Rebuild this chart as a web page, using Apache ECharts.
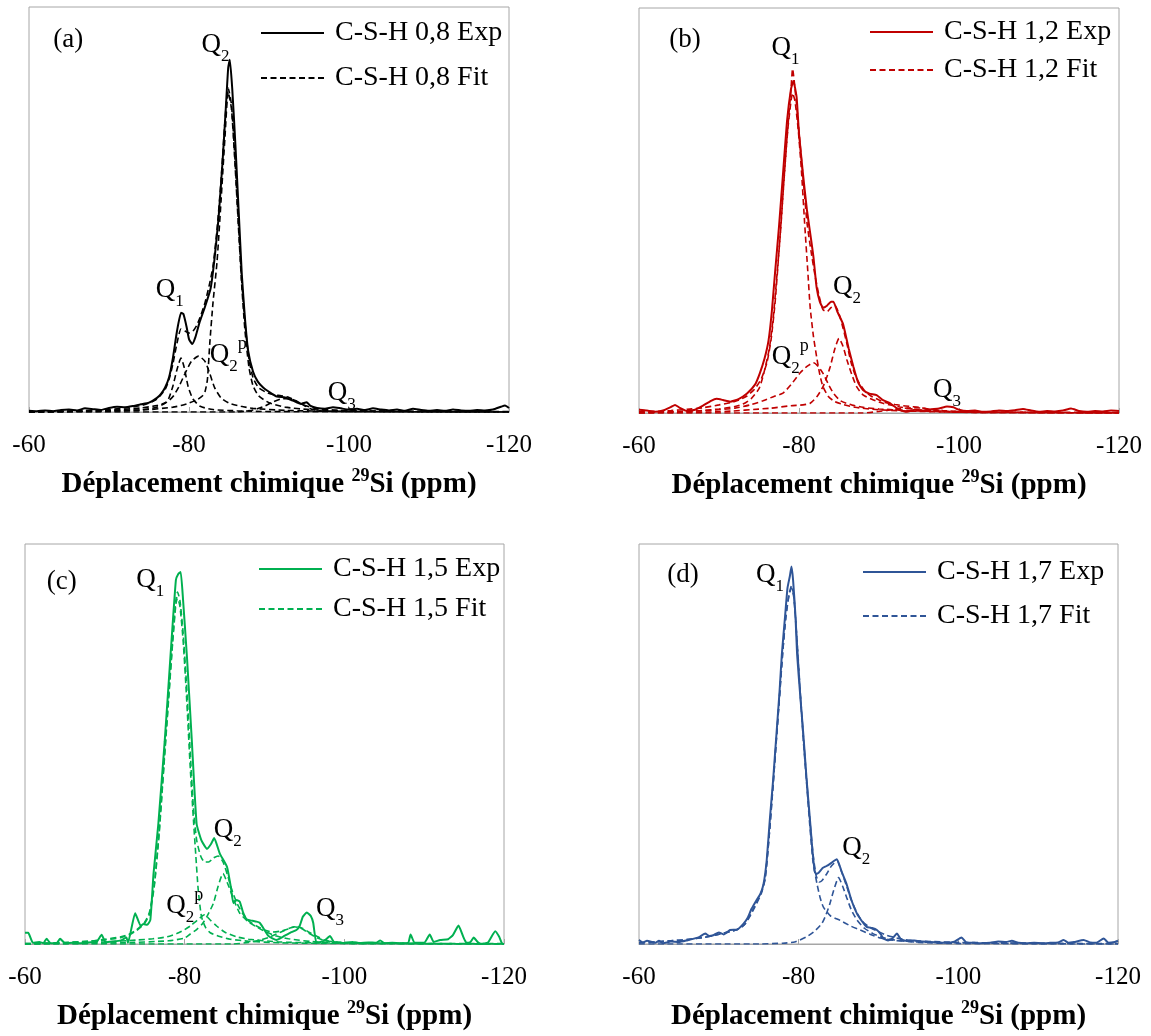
<!DOCTYPE html>
<html>
<head>
<meta charset="utf-8">
<script src="https://cdn.jsdelivr.net/npm/echarts@6/dist/echarts.min.js"></script>
<style>html,body{margin:0;padding:0;background:#fff;}#c{width:1151px;height:1036px;}</style>
</head>
<body>
<div id="c"></div>
<script>
// ---------- tick labels / axis ----------
const xTicks = [-60, -80, -100, -120];
const axisTitle = 'Déplacement chimique {sup|29}Si (ppm)';

// ---------- panel (a) C-S-H 0,8 ----------
const expA = [[-60,0.3],[-61,0.2],[-62,0.4],[-63,0.2],[-64,0.5],[-65,0.6],[-66,0.4],[-67,0.9],[-68,0.7],[-69,0.5],[-70,1.0],[-71,1.3],[-72,1.2],[-73,1.5],[-74,1.9],[-75,2.3],[-76,3.5],[-76.5,4.5],[-77,6],[-77.5,8.5],[-78,13.5],[-78.5,20],[-79,24.5],[-79.3,24.2],[-79.7,21],[-80,18],[-80.4,16.8],[-80.8,18.5],[-81.3,22],[-82,26],[-82.7,30.5],[-83.2,38],[-83.7,48],[-84.2,62],[-84.6,75],[-84.9,85],[-85.1,87],[-85.4,80],[-85.8,66],[-86.2,50],[-86.6,34],[-87,23],[-87.4,15],[-88,10],[-88.6,7.5],[-89.3,6],[-90,5],[-91,3.8],[-92,3.6],[-93,2.8],[-94,2.0],[-94.7,2.4],[-95.2,1.5],[-96,1.0],[-97,0.8],[-98,1.2],[-99,0.9],[-100,0.6],[-101,0.8],[-102,0.5],[-103,0.9],[-104,0.6],[-105,0.4],[-106,0.6],[-107,0.3],[-108,0.8],[-109,0.5],[-110,0.3],[-111,0.5],[-112,0.3],[-113,0.6],[-114,0.4],[-115,0.3],[-116,0.5],[-117,0.4],[-118,0.6],[-119,1.3],[-119.5,1.6],[-120,1.0]];
const fitA = [[-60,0],[-65,0.2],[-70,0.6],[-72,1.0],[-74,1.6],[-75,2.2],[-76,3.2],[-77,5.5],[-77.5,8],[-78,12],[-78.5,17],[-79,20.5],[-79.5,20],[-80,19.5],[-80.5,20],[-81,21.5],[-81.5,24],[-82,27],[-82.5,31],[-83,36],[-83.5,45],[-84,57],[-84.5,72],[-84.9,80],[-85.3,76],[-85.7,64],[-86.2,46],[-86.6,32],[-87,22],[-87.5,13],[-88,8.5],[-88.7,6],[-89.5,5],[-90.5,4.3],[-91.5,4],[-92.5,3.6],[-93.5,2.6],[-94.5,1.6],[-96,0.8],[-98,0.5],[-100,0.3],[-105,0.2],[-110,0.1],[-120,0.1]];
const q1A = [[-60,0],[-70,0.2],[-74,0.5],[-76,1.2],[-77,2.2],[-77.5,3.5],[-78,6.5],[-78.5,10.5],[-79,13.3],[-79.4,11],[-79.9,6.2],[-80.5,3.2],[-81.4,1.4],[-83,0.6],[-86,0.3],[-90,0.1],[-120,0]];
const q2pA = [[-60,0],[-70,0.4],[-74,1.0],[-76,1.6],[-77.2,2.4],[-78,3.8],[-78.8,6.5],[-79.5,9.5],[-80.3,12.5],[-81.2,13.8],[-82,12.5],[-82.6,9.5],[-83.2,6],[-84,3.5],[-85,2.2],[-86.5,1.4],[-88,0.9],[-92,0.4],[-100,0.1],[-120,0]];
const q2A = [[-60,0],[-70,0.3],[-75,0.6],[-78,1.2],[-79,1.6],[-80,2.2],[-81,3.0],[-81.7,4],[-82,5],[-82.3,8],[-82.6,17],[-83,27],[-83.5,37],[-84,52],[-84.5,68],[-84.9,79],[-85.3,75],[-85.7,63],[-86.2,45],[-86.6,31],[-87,20],[-87.5,11],[-88,6.5],[-88.7,4],[-90,2.3],[-92,1.2],[-95,0.6],[-100,0.3],[-120,0]];
const q3A = [[-60,0],[-86,0],[-88,0.5],[-89.5,1.5],[-90.5,2.5],[-91.5,3.2],[-92.5,3.3],[-93.5,2.6],[-94.5,1.5],[-95.5,0.6],[-97,0.2],[-120,0]];

// ---------- panel (b) C-S-H 1,2 ----------
const expB = [[-60,0.8],[-61,0.6],[-62,0.3],[-63,0.6],[-64,1.5],[-64.5,2.0],[-65,1.4],[-66,0.5],[-67,0.8],[-68,1.8],[-69,3.0],[-69.7,3.5],[-70.5,3.2],[-71.4,2.8],[-72.5,3.5],[-73.5,4.8],[-74.5,7],[-75.1,9.8],[-75.7,13.5],[-76.2,18],[-76.6,25],[-77,34.5],[-77.5,46],[-78,59],[-78.5,72],[-79,80],[-79.3,82],[-79.7,78],[-80,69],[-80.5,59],[-81,50],[-81.5,43],[-81.8,38.6],[-82.2,31],[-82.6,27.5],[-83,26],[-83.5,26.5],[-84,27.5],[-84.3,27.5],[-84.8,25],[-85.5,22],[-86.2,16],[-86.8,11.4],[-87.4,7.5],[-88,5.7],[-88.8,4.8],[-89.7,4.4],[-90.5,3.2],[-91.4,2.4],[-92.5,0.8],[-93.5,0.3],[-94.5,0.8],[-95.5,0.6],[-96.5,0.9],[-97.5,1.1],[-98.5,1.6],[-99.3,1.4],[-100,0.8],[-101,0.5],[-102,0.6],[-103,0.3],[-104,0.4],[-105,0.6],[-106,0.5],[-107,0.7],[-108,1.0],[-109,0.6],[-110,0.3],[-111,0.5],[-112,0.4],[-113,0.6],[-114,1.1],[-115,0.5],[-116,0.3],[-117,0.5],[-118,0.4],[-119,0.6],[-120,0.5]];
const fitB = [[-60,0.3],[-62,0.4],[-64,0.6],[-66,0.9],[-68,1.3],[-70,2.0],[-71.5,2.6],[-72.5,3.2],[-73.5,4.2],[-74.5,6],[-75.3,8.5],[-76,12.5],[-76.5,18],[-77,27],[-77.5,40],[-78,54],[-78.5,68],[-79,80],[-79.2,85],[-79.4,82],[-79.8,74],[-80.2,65],[-80.6,56],[-81,47],[-81.5,40],[-82,34],[-82.5,29],[-83,25.5],[-83.5,25],[-84,26],[-84.5,26.5],[-85,24.5],[-85.5,21],[-86,17],[-86.5,12.5],[-87,9.5],[-87.5,7.5],[-88.2,5.5],[-89,4.2],[-90,3.2],[-91,2.5],[-92,2.1],[-93,1.8],[-94,1.6],[-95,1.4],[-96,1.0],[-98,0.6],[-100,0.4],[-105,0.2],[-110,0.2],[-120,0.1]];
const q1B = [[-60,0.1],[-65,0.3],[-68,0.6],[-70,1.0],[-72,1.6],[-73,2.2],[-74,3.5],[-75,6],[-75.6,9.8],[-76.3,16],[-76.8,24],[-77.2,33],[-77.7,45],[-78.1,57],[-78.6,70],[-79,77],[-79.2,79],[-79.5,77],[-79.9,70],[-80.3,60],[-80.7,47],[-81.1,35],[-81.4,26],[-81.8,19],[-82.2,13.9],[-82.6,9.5],[-83,6.5],[-83.7,4],[-84.5,2.8],[-85.5,2.1],[-87,1.4],[-90,0.8],[-95,0.4],[-100,0.2],[-120,0]];
const q2pB = [[-60,0.1],[-66,0.4],[-70,0.8],[-72,1.2],[-73.9,2.0],[-75.5,3.0],[-77,4.2],[-78,4.9],[-79,7],[-80.1,9.8],[-81,11.5],[-81.8,12.4],[-82.4,11.5],[-83,9.8],[-83.7,7],[-84.3,4.9],[-85.2,3],[-86.6,2],[-88,1.4],[-90,1.0],[-95,0.5],[-100,0.2],[-120,0]];
const q2B = [[-60,0],[-70,0.3],[-76.5,1.2],[-79,1.8],[-80.5,2.0],[-81.4,2.4],[-82.3,4.2],[-83,6.5],[-83.5,9],[-83.9,11.4],[-84.5,16],[-85,18.4],[-85.5,16.5],[-86,13],[-86.6,9.5],[-87.2,6.5],[-88,4.5],[-89.3,3.2],[-90.5,2.4],[-92.6,1.5],[-95,0.8],[-100,0.3],[-120,0]];
const q3B = [[-60,0],[-88,0],[-90,0.4],[-92,0.9],[-94,1.3],[-95.5,1.2],[-97,0.7],[-99,0.3],[-102,0.1],[-120,0]];

// ---------- panel (c) C-S-H 1,5 ----------
const expC = [[-60,2.8],[-60.4,2.8],[-61,0.3],[-61.8,0.5],[-62.3,0.2],[-62.7,1.3],[-63.2,0.2],[-64,0.3],[-64.4,1.3],[-65,0.2],[-66,0.3],[-67,0.2],[-68,0.4],[-69,0.6],[-69.6,2.3],[-70.1,0.4],[-71,0.6],[-72,0.9],[-72.7,1.6],[-72.9,0.3],[-73.8,7.7],[-74.5,4.5],[-74.8,5],[-75.3,4.8],[-75.7,6],[-76.1,17.6],[-76.7,30],[-77.5,50.7],[-78.2,71.3],[-78.9,91],[-79.2,92.5],[-79.5,93],[-79.8,86],[-80.3,71.3],[-80.9,50.7],[-81.5,30],[-82.1,25.9],[-82.8,23.8],[-83.3,25],[-83.7,26.5],[-84.4,22.6],[-85.3,19.3],[-85.8,14],[-86.1,10.2],[-86.5,11],[-86.9,10.6],[-87.3,8],[-87.8,6.1],[-88.5,5.8],[-89,5.6],[-89.4,5.3],[-90,3.5],[-90.5,2.0],[-91.5,1.0],[-92.3,1.8],[-93.2,2.8],[-94,3.5],[-94.4,4.5],[-94.8,6.8],[-95.3,7.9],[-95.8,7],[-96.1,5.3],[-96.5,0.3],[-97,0.5],[-97.6,1.0],[-98.2,2.0],[-98.7,0.5],[-99.5,0.3],[-100,0.2],[-101,0.5],[-101.9,0.2],[-103,0.4],[-104,0.3],[-104.5,0.9],[-105,0.2],[-106,0.3],[-107,0.2],[-108,0.3],[-108.3,2.4],[-108.8,0.3],[-110,0.3],[-110.7,2.4],[-111.2,0.5],[-112,1.0],[-113,1.2],[-113.6,2.2],[-114.3,4.6],[-114.9,1.8],[-115.3,0.3],[-115.8,0.5],[-116.2,1.6],[-116.7,0.5],[-117.1,0],[-118,0.4],[-118.9,3.2],[-119.4,1.8],[-119.8,0],[-120,0]];
const fitC = [[-60,0.1],[-64,0.3],[-68,0.7],[-70,1.2],[-72,1.8],[-73,2.4],[-74,3.6],[-75,5.5],[-75.6,8],[-76.2,15],[-76.8,28],[-77.4,45],[-78,62],[-78.5,76],[-78.9,86],[-79.1,88],[-79.4,86],[-79.8,78],[-80.2,66],[-80.7,48],[-81.1,34],[-81.5,26],[-82,22],[-82.5,20.5],[-83,20.5],[-83.6,21.5],[-84.2,22],[-84.8,20.5],[-85.4,17],[-86,13],[-86.6,10],[-87.3,7.5],[-88,5.8],[-89,4.5],[-90,3.5],[-91,3.0],[-92,3.2],[-93,3.8],[-93.7,4.3],[-94.5,4.0],[-95.5,2.8],[-96.5,1.6],[-97.5,0.9],[-99,0.5],[-102,0.3],[-110,0.1],[-120,0.1]];
const q1C = [[-60,0.1],[-65,0.3],[-70,1.0],[-72,1.6],[-73,2.2],[-74,3.4],[-75,5.2],[-75.6,7.5],[-76.2,14.5],[-76.8,27.5],[-77.4,44.5],[-78,61.5],[-78.5,75.5],[-78.9,85],[-79.1,86.5],[-79.4,84.5],[-79.8,76],[-80.2,63],[-80.7,44],[-81.1,31],[-81.4,22],[-81.7,13.5],[-82.1,6.9],[-82.6,4.2],[-83.2,2.8],[-84.5,1.8],[-85.7,1.2],[-88,0.7],[-92,0.3],[-100,0.1],[-120,0]];
const q2pC = [[-60,0],[-70,0.5],[-74,1.0],[-76,1.3],[-77.8,1.8],[-79,2.6],[-80,3.6],[-80.7,4.5],[-81.5,5.8],[-82.5,7.3],[-83.2,6],[-84,4.5],[-85,3.0],[-86.5,1.8],[-88,1.2],[-92,0.5],[-100,0.2],[-120,0]];
const q2C = [[-60,0],[-72,0.3],[-78,0.8],[-80,1.5],[-80.7,2.5],[-81.5,3.6],[-82.2,5],[-82.8,6.9],[-83.6,10.2],[-84.2,14.5],[-84.8,17.6],[-85.2,16],[-85.7,13.5],[-86.3,10.3],[-86.9,7.7],[-88,5.5],[-89,4.3],[-90.2,3],[-91.5,2],[-93,1.3],[-96,0.6],[-100,0.3],[-120,0]];
const q3C = [[-60,0],[-86,0],[-88,0.4],[-89.5,1.0],[-90.5,1.6],[-91.5,2.5],[-92.5,3.4],[-93.2,4.0],[-94,4.3],[-94.8,3.9],[-95.5,3.0],[-96.5,2.0],[-97.5,1.0],[-99,0.4],[-101,0.1],[-120,0]];

// ---------- panel (d) C-S-H 1,7 ----------
const expD = [[-60,1.0],[-60.5,0.4],[-61,0.8],[-62,0.3],[-62.5,0.8],[-63,0.2],[-64,0.6],[-65,0.5],[-66,0.9],[-67,1.4],[-67.6,1.8],[-68.3,2.6],[-68.8,2.0],[-69.3,2.2],[-70,2.9],[-70.6,2.4],[-71.4,3.5],[-72.3,3.6],[-73.1,5.1],[-73.6,6.5],[-74.1,8.8],[-74.7,10.9],[-75.2,12.5],[-75.6,15],[-76,21],[-76.4,31.4],[-76.8,41],[-77.2,52],[-77.6,63],[-77.9,72.6],[-78.3,82],[-78.6,89],[-78.9,92],[-79.1,94.4],[-79.3,91],[-79.6,82],[-79.8,72.6],[-80.2,62],[-80.6,52],[-81,41],[-81.4,31.4],[-81.7,24],[-82,18.3],[-82.2,17.5],[-82.5,17.8],[-83,19],[-83.5,19.5],[-84.1,20.3],[-84.6,21],[-84.8,21.2],[-85.4,18],[-86,15],[-86.6,11],[-87.3,7.6],[-88,5.5],[-88.5,4.3],[-89.2,4],[-89.8,3.5],[-90.3,2.4],[-90.6,1.4],[-91.2,0.9],[-91.8,1.5],[-92.3,2.6],[-92.8,1.2],[-93.5,0.8],[-94.5,0.9],[-95.5,0.6],[-96.5,0.5],[-97.5,0.4],[-98.5,0.3],[-99.5,0.6],[-100.4,1.6],[-101,0.4],[-102,0.3],[-103,0.2],[-104,0.3],[-105,0.6],[-106,0.5],[-106.7,0.8],[-107.5,0.3],[-108.5,0.2],[-109.5,0.3],[-110.5,0.2],[-111.5,0.3],[-112.5,0.4],[-113.2,1.0],[-113.8,0.3],[-114.5,0.5],[-115.7,1.0],[-116.5,0.4],[-117.3,0.3],[-118.2,1.4],[-118.8,0.3],[-119.6,0.5],[-120,0.8]];
const fitD = [[-60,0.3],[-62,0.5],[-64,0.8],[-66,1.1],[-68,1.6],[-69.5,2.2],[-71,2.9],[-72.3,3.6],[-73.2,4.8],[-74,7.5],[-74.7,10.3],[-75.3,12.8],[-75.8,16.5],[-76.3,27],[-76.8,40],[-77.2,51],[-77.6,62],[-78,73],[-78.4,82],[-78.8,87.5],[-79.1,89.5],[-79.4,87],[-79.8,76],[-80.2,63],[-80.6,51.5],[-81,41],[-81.4,31],[-81.8,22.5],[-82.2,17],[-82.6,15.5],[-82.9,15.8],[-83.5,17.5],[-84.1,19.5],[-84.8,20.8],[-85.3,18.5],[-86,14.5],[-86.6,11],[-87.3,7.8],[-88,5.6],[-88.8,4.3],[-89.8,3.3],[-91,2.2],[-92.5,1.4],[-94,0.9],[-97,0.6],[-100,0.4],[-110,0.2],[-120,0.1]];
const q1D = [[-60,0.3],[-62,0.5],[-64,0.8],[-66,1.1],[-68,1.6],[-69.5,2.2],[-71,2.9],[-72.3,3.6],[-73.2,4.8],[-74,7.3],[-74.7,10],[-75.3,12.5],[-75.8,16.3],[-76.3,26.8],[-76.8,39.8],[-77.2,50.8],[-77.6,61.8],[-78,72.8],[-78.4,81.8],[-78.8,87.3],[-79.1,89],[-79.4,86.5],[-79.8,75.5],[-80.2,62.5],[-80.6,50.5],[-81,40],[-81.4,29.5],[-81.8,20.5],[-82.3,15],[-82.7,11.5],[-83.1,9.2],[-84,7],[-85.2,5.9],[-86.5,4.5],[-87.7,3.5],[-89,2.4],[-90.2,1.5],[-92,0.9],[-95,0.5],[-100,0.3],[-110,0.1],[-120,0]];
const q2D = [[-60,0],[-75,0],[-78,0.2],[-79.5,0.5],[-81,1.8],[-82,3.2],[-82.9,5.1],[-83.4,7.2],[-83.9,10],[-84.4,13.5],[-85,16.6],[-85.5,14.5],[-86,11.7],[-86.6,8.5],[-87.3,6],[-88.2,4],[-89.3,2.6],[-90.5,1.6],[-92,1.0],[-95,0.4],[-100,0.1],[-120,0]];

// ---------- annotations: [ppm, intensity, text] ----------
const notesA = [[-64.9,91.9,'{q|(a)}'],[-83.3,90.6,'{q|Q}{s|2}'],[-77.6,30.1,'{q|Q}{s|1}'],[-84.9,14.1,'{q|Q}{s|2}{p|p}'],[-99.1,4.6,'{q|Q}{s|3}']];
const notesB = [[-65.75,92.1,'{q|(b)}'],[-78.3,90.1,'{q|Q}{s|1}'],[-86.0,31.1,'{q|Q}{s|2}'],[-78.9,13.8,'{q|Q}{s|2}{p|p}'],[-98.5,5.7,'{q|Q}{s|3}']];
const notesC = [[-64.6,90.6,'{q|(c)}'],[-75.7,91.1,'{q|Q}{s|1}'],[-85.4,28.5,'{q|Q}{s|2}'],[-80.0,9.4,'{q|Q}{s|2}{p|p}'],[-98.2,8.7,'{q|Q}{s|3}']];
const notesD = [[-65.5,92.3,'{q|(d)}'],[-76.4,92.3,'{q|Q}{s|1}'],[-87.2,24.0,'{q|Q}{s|2}']];

const panels = [
  {exp: expA, fit: fitA, comps: [q1A, q2pA, q2A, q3A], notes: notesA, color: '#000000', label: 'C-S-H 0,8'},
  {exp: expB, fit: fitB, comps: [q1B, q2pB, q2B, q3B], notes: notesB, color: '#c00000', label: 'C-S-H 1,2'},
  {exp: expC, fit: fitC, comps: [q1C, q2pC, q2C, q3C], notes: notesC, color: '#00b050', label: 'C-S-H 1,5'},
  {exp: expD, fit: fitD, comps: [q1D, q2D], notes: notesD, color: '#2f5597', label: 'C-S-H 1,7'}
];

// ---------- layout ----------
const FONT = "'Liberation Serif', 'DejaVu Serif', serif";
const gridsPos = [
  {left: 29, top: 7, width: 480, height: 405},
  {left: 639, top: 8, width: 480, height: 405},
  {left: 25, top: 544, width: 479, height: 404},
  {left: 639, top: 544, width: 479, height: 405}
];
const legendPos = [
  {left: 260, top: 18, itemGap: 15},
  {left: 869, top: 17, itemGap: 8},
  {left: 258, top: 554, itemGap: 10},
  {left: 862, top: 557, itemGap: 14}
];

const grid = [], xAxis = [], yAxis = [], series = [], legend = [];
panels.forEach((p, i) => {
  grid.push(Object.assign({show: true, borderColor: '#a6a6a6', borderWidth: 1, backgroundColor: '#fff', containLabel: false}, gridsPos[i]));
  xAxis.push({
    type: 'value', gridIndex: i, min: -120, max: -60, interval: 20, inverse: true,
    axisLine: {show: true, onZero: false, lineStyle: {color: '#a6a6a6', width: 1}},
    axisTick: {show: true, inside: true, length: 5, lineStyle: {color: '#a6a6a6'}},
    splitLine: {show: false},
    axisLabel: {fontSize: 25, color: '#000', fontFamily: FONT, margin: 21,
      formatter: v => (xTicks.indexOf(v) >= 0 ? String(v) : '')},
    name: axisTitle, nameLocation: 'middle', nameGap: 55,
    nameTextStyle: {fontSize: 29, fontWeight: 'bold', color: '#000', fontFamily: FONT, lineHeight: 36,
      rich: {sup: {fontSize: 18, fontWeight: 'bold', fontFamily: FONT, color: '#000', verticalAlign: 'top', lineHeight: 22}}}
  });
  yAxis.push({type: 'value', gridIndex: i, min: 0, max: 100, show: false});
  const expName = p.label + ' Exp', fitName = p.label + ' Fit';
  series.push({
    name: expName, type: 'line', xAxisIndex: i, yAxisIndex: i, data: p.exp, symbol: 'none',
    lineStyle: {color: p.color, width: 2}, itemStyle: {color: p.color}, z: 3, animation: false, smooth: 0.15
  });
  series.push({
    name: fitName, type: 'line', xAxisIndex: i, yAxisIndex: i, data: p.fit, symbol: 'none',
    lineStyle: {color: p.color, width: 1.6, type: [6, 3.5]}, itemStyle: {color: p.color}, z: 2, animation: false, smooth: 0.2
  });
  p.comps.forEach((c, k) => {
    series.push({
      name: 'comp' + i + '_' + k, type: 'line', xAxisIndex: i, yAxisIndex: i, data: c, symbol: 'none',
      lineStyle: {color: p.color, width: 1.6, type: [6, 3.5]}, itemStyle: {color: p.color}, z: 2, animation: false, smooth: 0.2
    });
  });
  series.push({
    name: 'notes' + i, type: 'scatter', xAxisIndex: i, yAxisIndex: i, symbolSize: 0, silent: true,
    itemStyle: {color: '#000', opacity: 1}, animation: false, z: 5,
    data: p.notes.map(n => ({value: [n[0], n[1]], label: {formatter: n[2]}})),
    label: {show: true, position: 'inside', color: '#000', opacity: 1, textBorderWidth: 0, fontFamily: FONT,
      rich: {
        q: {fontSize: 27, fontFamily: FONT, color: '#000', lineHeight: 40, verticalAlign: 'middle', textBorderWidth: 0},
        s: {fontSize: 17, fontFamily: FONT, color: '#000', lineHeight: 16, verticalAlign: 'bottom', textBorderWidth: 0},
        p: {fontSize: 18, fontFamily: FONT, color: '#000', lineHeight: 22, verticalAlign: 'top', textBorderWidth: 0}
      }}
  });
  legend.push({
    data: [expName, fitName], orient: 'vertical', left: legendPos[i].left, top: legendPos[i].top,
    padding: 0, itemGap: legendPos[i].itemGap, itemWidth: 63, itemHeight: 14, selectedMode: false,
    itemStyle: {color: 'rgba(0,0,0,0)', borderColor: 'rgba(0,0,0,0)', borderWidth: 0},
    textStyle: {fontSize: 28, color: '#000', fontFamily: FONT, lineHeight: 30, padding: [0, 0, 0, 6]}
  });
});

const chart = echarts.init(document.getElementById('c'), null, {renderer: 'canvas'});
chart.setOption({backgroundColor: '#fff', animation: false, grid, xAxis, yAxis, series, legend});
</script>
</body>
</html>
